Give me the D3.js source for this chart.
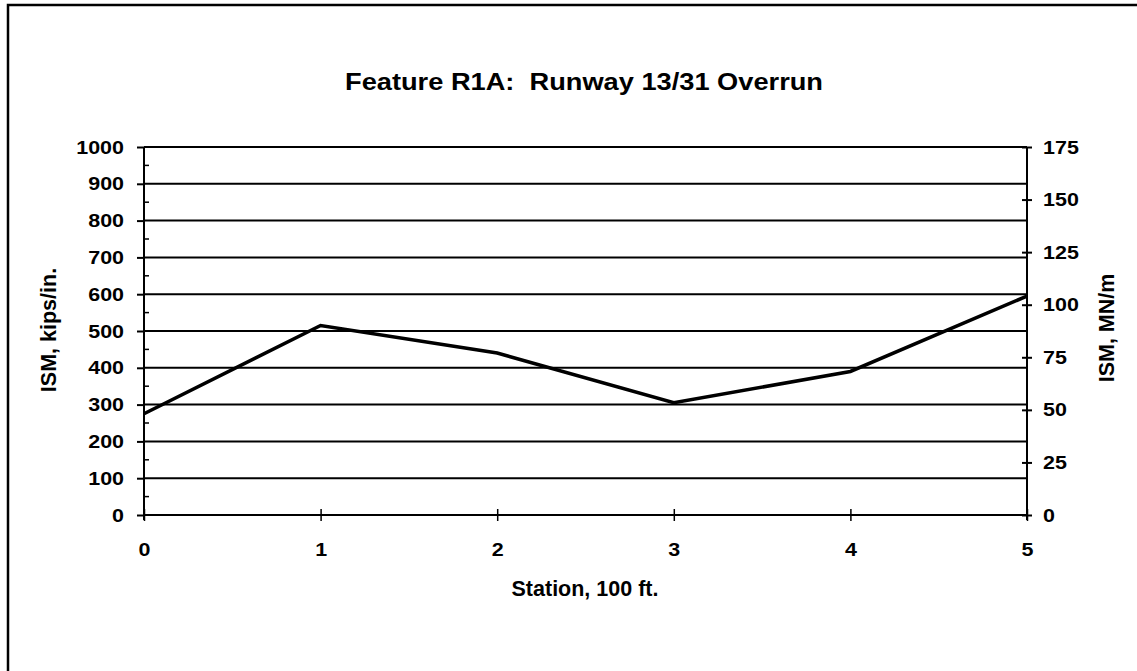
<!DOCTYPE html>
<html>
<head>
<meta charset="utf-8">
<script src="https://cdn.jsdelivr.net/npm/d3@7"></script>
<style>
  html, body { margin: 0; padding: 0; background: #fff; }
  svg { display: block; }
  text { font-family: "Liberation Sans", Arial, sans-serif; font-weight: bold; fill: #000; white-space: pre; }
</style>
</head>
<body>
<script>
const title = "Feature R1A:  Runway 13/31 Overrun";
const xLabel = "Station, 100 ft.";
const yLeftLabel = "ISM, kips/in.";
const yRightLabel = "ISM, MN/m";
const stations = [0, 1, 2, 3, 4, 5];
const ismKips = [275, 515, 440, 305, 390, 595];
const leftTicks = [0, 100, 200, 300, 400, 500, 600, 700, 800, 900, 1000];
const rightTicks = [0, 25, 50, 75, 100, 125, 150, 175];
const xTicks = [0, 1, 2, 3, 4, 5];

(function () {
const W = 1137, H = 671;
const svg = d3.select("body").append("svg").attr("width", W).attr("height", H);

// outer frame
svg.append("rect").attr("x", 8).attr("y", 5).attr("width", W + 20).attr("height", H + 20)
  .attr("fill", "none").attr("stroke", "#000").attr("stroke-width", 2.5);

const pL = 144, pR = 1027, pT = 147, pB = 515;
const x = d3.scaleLinear().domain([0, 5]).range([pL, pR]);
const yL = d3.scaleLinear().domain([0, 1000]).range([pB, pT]);
const yR = d3.scaleLinear().domain([0, 175]).range([pB, pT]);

function stretch(sel, factor) {
  sel.each(function () {
    const n = this.getComputedTextLength();
    d3.select(this).attr("textLength", n * factor).attr("lengthAdjust", "spacingAndGlyphs");
  });
}
const tickFont = g => {
  const t = g.selectAll(".tick text")
    .style("font-size", "19px")
    .style("font-family", "'Liberation Sans', Arial, sans-serif")
    .style("font-weight", "bold").attr("fill", "#000");
  stretch(t, 1.13);
};

// gridlines
svg.append("g").selectAll("line").data(leftTicks.filter(d => d > 0)).join("line")
  .attr("x1", pL).attr("x2", pR)
  .attr("y1", d => yL(d)).attr("y2", d => yL(d))
  .attr("stroke", "#000").attr("stroke-width", 2);

// left axis
const gL = svg.append("g").attr("transform", `translate(${pL},0)`);
gL.call(d3.axisLeft(yL).tickValues(leftTicks).tickSize(7).tickPadding(13).tickFormat(d3.format("d")));
gL.select(".domain").remove();
gL.append("line").attr("x1", 0).attr("x2", 0).attr("y1", pT).attr("y2", pB + 5)
  .attr("stroke", "#000").attr("stroke-width", 2);
gL.selectAll(".tick line").attr("stroke-width", 2);
tickFont(gL);
// minor inward ticks
gL.append("g").selectAll("line").data(d3.range(50, 1000, 100)).join("line")
  .attr("x1", 0).attr("x2", 5).attr("y1", d => yL(d)).attr("y2", d => yL(d))
  .attr("stroke", "#000").attr("stroke-width", 1.5);

// right axis
const gR = svg.append("g").attr("transform", `translate(${pR},0)`);
gR.call(d3.axisRight(yR).tickValues(rightTicks).tickSize(5).tickPadding(11));
gR.select(".domain").remove();
gR.append("line").attr("x1", 0).attr("x2", 0).attr("y1", pT).attr("y2", pB + 5)
  .attr("stroke", "#000").attr("stroke-width", 2);
gR.selectAll(".tick line").attr("x1", -5).attr("stroke-width", 2);
tickFont(gR);

// x axis
const gX = svg.append("g").attr("transform", `translate(0,${pB})`);
gX.call(d3.axisBottom(x).tickValues(xTicks).tickSize(6).tickPadding(22).tickFormat(d3.format("d")));
gX.select(".domain").remove();
gX.append("line").attr("x1", pL).attr("x2", pR).attr("y1", 0).attr("y2", 0)
  .attr("stroke", "#000").attr("stroke-width", 2);
gX.selectAll(".tick line").attr("y1", -6).attr("stroke-width", 1.5);
tickFont(gX);

// data line
const line = d3.line().x((d, i) => x(stations[i])).y(d => yL(d));
svg.append("path").datum(ismKips).attr("d", line)
  .attr("fill", "none").attr("stroke", "#000").attr("stroke-width", 3.5).attr("stroke-linejoin", "miter");

// title
const tt = svg.append("text").attr("x", 584).attr("y", 90).attr("text-anchor", "middle")
  .style("font-size", "24px").text(title);
tt.attr("textLength", 478).attr("lengthAdjust", "spacingAndGlyphs");

// x label
svg.append("text").attr("x", 585).attr("y", 596).attr("text-anchor", "middle")
  .style("font-size", "21.5px").text(xLabel);

// left y label
svg.append("text").attr("transform", `translate(56,330) rotate(-90)`)
  .attr("text-anchor", "middle").style("font-size", "21.5px").text(yLeftLabel);

// right y label
svg.append("text").attr("transform", `translate(1114,328) rotate(-90)`)
  .attr("text-anchor", "middle").style("font-size", "21.5px").text(yRightLabel);
})();
</script>
</body>
</html>
